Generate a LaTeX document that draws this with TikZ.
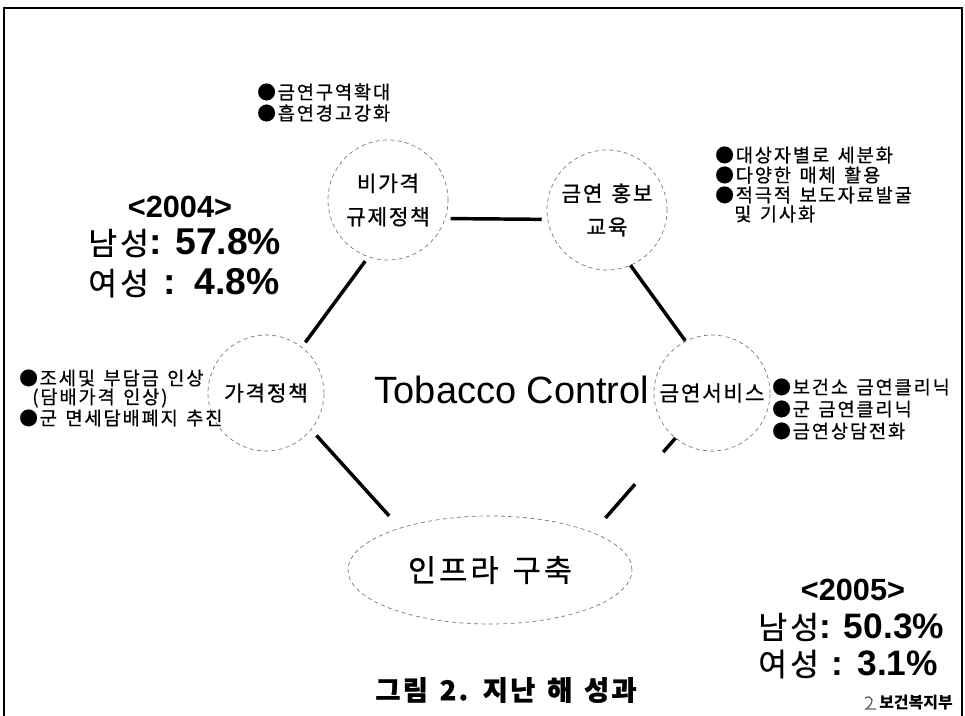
\documentclass[tikz,border=0pt]{standalone}
\usepackage{fontspec}
\setmainfont{Liberation Sans}
\newfontfamily\kr[WordSpace=1.6]{Noto Sans CJK KR}
\newfontfamily\krs[WordSpace=1.4,LetterSpace=10,FakeBold=0.6]{Noto Sans CJK KR}
\newfontfamily\krb[WordSpace=1.4,LetterSpace=8,FakeBold=0.9]{Noto Sans CJK KR}
\usetikzlibrary{shapes.geometric}
\tikzset{
 bub/.style={circle, draw=black!55, line width=0.5pt, dash pattern=on 3pt off 2.5pt,
   minimum size=90pt, inner sep=0pt, outer sep=0pt, align=center,
   font=\krb\fontsize{16}{25}\selectfont},
 conn/.style={line width=2.6pt},
 bul/.style={anchor=west, inner sep=0pt, font=\krs\fontsize{14}{16}\selectfont},
 yr/.style={inner sep=0pt, font=\bfseries\fontsize{23}{26}\selectfont},
 pct/.style={anchor=west, inner sep=0pt},
}
\newcommand{\krbig}[1]{{\krs\fontsize{23.5}{26}\selectfont #1}}
\newcommand{\numbig}[1]{{\bfseries\fontsize{28}{30}\selectfont #1}}
\newcommand{\numbigb}[1]{{\bfseries\fontsize{26.5}{30}\selectfont #1}}
\begin{document}
\begin{tikzpicture}[x=0.75pt,y=-0.75pt]
\useasboundingbox (0,0) rectangle (965,716);
% frame
\draw[line width=2pt, line join=miter] (4,716) -- (4,8) -- (962,8) -- (962,716);

% policy bubbles
\node[bub] (nb) at (388,200) {비가격\\규제정책};
\node[bub] (nh) at (607,210) {금연 홍보\\교육};
\node[bub, minimum size=87pt] (ng) at (266,393) {가격정책};
\node[bub, minimum size=87pt] (ns) at (712,393) {금연서비스};
\node[ellipse, draw=black!55, line width=0.5pt, dash pattern=on 3pt off 2.5pt,
      minimum width=213pt, minimum height=81pt, inner sep=0pt, outer sep=0pt,
      font=\krs\fontsize{23}{26}\selectfont] (ni) at (490,570) {인프라 구축};

\node[font=\fontsize{28.5}{32}\selectfont, inner sep=0pt] (tc) at (512,390) {Tobacco Control};

% connectors
\draw[conn, shorten <=4.1pt, shorten >=4.6pt] (nb.251) -- (ng.52.6);
\draw[conn, shorten <=4.1pt, shorten >=4.5pt] (nb.-18.7) -- (nh.189.6);
\draw[conn, shorten >=0.6pt] (nh.-67.3) -- (ns.117);
\draw[conn, shorten <=6pt, shorten >=12.5pt] (ng.-39.5) -- (ni.155.8);
\draw[conn, dash pattern=on 14pt off 32pt on 36pt off 80pt, shorten >=14.7pt] (ns.231) -- (ni.20);

% bullet lists
\node[bul] (b1) at (257,92) {●금연구역확대};
\node[bul] (b2) at (257,113) {●흡연경고강화};

\node[bul] (r1) at (715,155) {●대상자별로 세분화};
\node[bul] (r2) at (715,175) {●다양한 매체 활용};
\node[bul] (r3) at (715,195) {●적극적 보도자료발굴};
\node[bul] (r4) at (734,214) {및 기사화};

\node[bul] (l1) at (19,378) {●조세및 부담금 인상};
\node[bul] (l2) at (32,398) {(담배가격 인상)};
\node[bul] (l3) at (19,418) {●군 면세담배폐지 추진};

\node[bul] (s1) at (772,387) {●보건소 금연클리닉};
\node[bul] (s2) at (772,409) {●군 금연클리닉};
\node[bul] (s3) at (772,431) {●금연상담전화};

% statistics
\node[yr] (y04) at (180,207) {<2004>};
\node[pct] (m04) at (88,243) {\krbig{남성}\numbig{: 57.8\%}};
\node[pct] (f04) at (88,283) {\krbig{여성}\hspace{11pt}\numbig{:}\hspace{14pt}\numbig{4.8\%}};

\node[yr] (y05) at (853,590) {<2005>};
\node[pct] (m05) at (758,627) {\krbig{남성}\numbigb{: 50.3\%}};
\node[pct] (f05) at (758,664) {\krbig{여성}\hspace{9pt}\numbigb{:}\hspace{11pt}\numbigb{3.1\%}};

% caption
\node[font=\krb\bfseries\fontsize{20.5}{24}\selectfont, inner sep=0pt] (cap) at (506,690) {그림 2. 지난 해 성과};

% ministry mark
\draw[black!60, line width=1pt] (865,698) .. controls (873,694) and (875,703) .. (866,709) -- (876,709);
\node[font=\kr\bfseries\fontsize{12}{14}\selectfont, anchor=west, inner sep=0pt] (mw) at (879,703) {보건복지부};
\end{tikzpicture}
\end{document}
